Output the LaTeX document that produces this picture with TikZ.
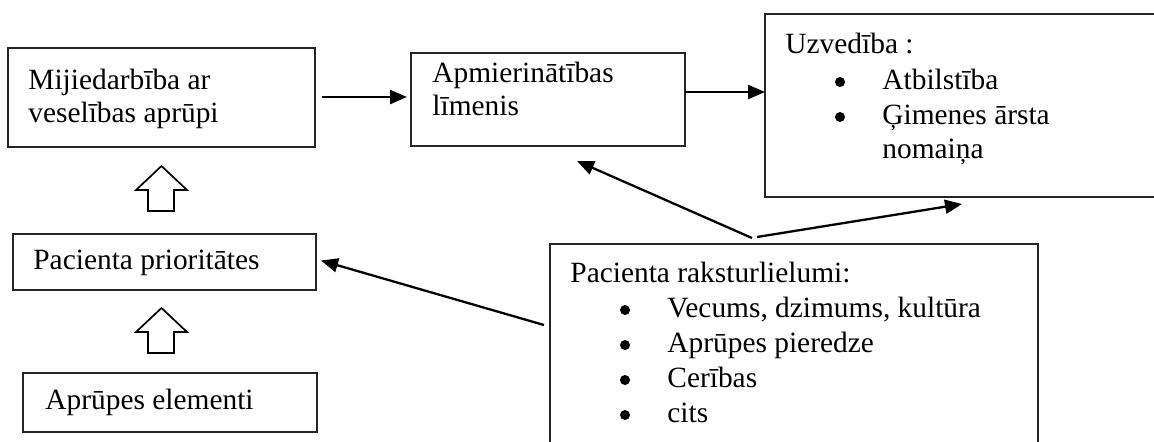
\documentclass[tikz,border=0pt]{standalone}
\usepackage{fontspec}
\setmainfont{Liberation Serif}
\usetikzlibrary{arrows.meta,calc}
\begin{document}
\begin{tikzpicture}[x=0.5pt,y=-0.5pt,
  box/.style={draw=black!85, line width=0.65pt, anchor=north west, inner sep=0pt, outer sep=0pt},
  txt/.style={anchor=base west, inner sep=0pt, font=\fontsize{14.7}{17}\selectfont},
  bul/.style={circle, fill=black, inner sep=0pt, minimum size=5pt},
  arr/.style={line width=1.15pt, -{Triangle[length=8.5pt,width=7pt]}},
  hollow/.style={draw, line width=0.85pt, line join=miter, fill=white}]
\clip (0,0) rectangle (1154,441);
% boxes
\node[box, minimum width=153.5pt, minimum height=49.5pt] (mij) at (8,48) {};
\node[box, minimum width=137pt, minimum height=46.5pt] (apm) at (411,53) {};
\node[box, minimum width=200pt, minimum height=91.5pt] (uzv) at (765,14) {};
\node[box, minimum width=244pt, minimum height=110pt] (pac) at (550,244) {};
\node[box, minimum width=151.5pt, minimum height=28pt] (pri) at (13,234) {};
\node[box, minimum width=147pt, minimum height=29.5pt] (ele) at (23,373) {};
% texts
\node[txt] (t1a) at (28,89) {Mijiedarbība ar};
\node[txt] (t1b) at (28,122) {veselības aprūpi};
\node[txt] (t2a) at (432,82) {Apmierinātības};
\node[txt] (t2b) at (432,115) {līmenis};
\node[txt] (t3) at (785,53) {Uzvedība :};
\node[bul] (b3a) at (840,82) {};
\node[txt] (t3a) at (882,89) {Atbilstība};
\node[bul] (b3b) at (840,117) {};
\node[txt] (t3b) at (882,124) {Ģimenes ārsta};
\node[txt] (t3c) at (882,158) {nomaiņa};
\node[txt] (t4) at (570,282) {Pacienta raksturlielumi:};
\node[bul] (b4a) at (625,310) {};
\node[txt] (t4a) at (667,317) {Vecums, dzimums, kultūra};
\node[bul] (b4b) at (625,345) {};
\node[txt] (t4b) at (667,352) {Aprūpes pieredze};
\node[bul] (b4c) at (625,380) {};
\node[txt] (t4c) at (667,387) {Cerības};
\node[bul] (b4d) at (625,415) {};
\node[txt] (t4d) at (667,422) {cits};
\node[txt] (t5) at (33,269) {Pacienta prioritātes};
\node[txt] (t6) at (45,409) {Aprūpes elementi};
% arrows
\draw[arr] ($(mij.east)+(7,-0.5)$) -- ($(apm.west)+(-4,-2.5)$);
\draw[arr] ($(apm.east)+(0,-7.5)$) -- ($(uzv.west)+(0,-13.5)$);
\draw[arr] ($(pac.north)+(-42,-6)$) -- ($(apm.south)+(29,15)$);
\draw[arr] ($(pac.north)+(-37,-7)$) -- ($(uzv.south west)+(197,7)$);
\draw[arr] ($(pac.west)+(-6,-29)$) -- ($(pri.east)+(5,-1.5)$);
% hollow block arrows
\draw[hollow] (161.5,166) -- (187,190) -- (174,190) -- (174,211) -- (148,211) -- (148,190) -- (136,190) -- cycle;
\draw[hollow] (161.5,308) -- (187,332) -- (174,332) -- (174,353) -- (148,353) -- (148,332) -- (136,332) -- cycle;
\end{tikzpicture}
\end{document}
